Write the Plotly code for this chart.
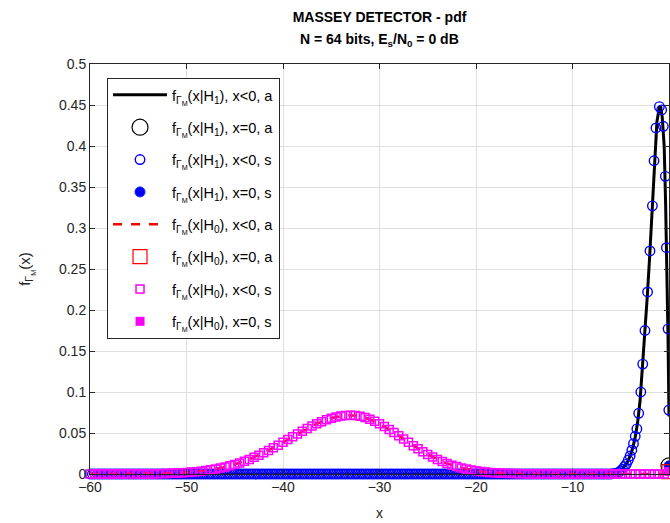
import numpy as np
import plotly.graph_objects as go

# ---------------- data ----------------
# common coarse grid for the simulated / analytic H0 pdf (x < 0)
h0_x = np.arange(-60.0, 0.0, 0.5)          # -60 ... -0.5  (120 samples)
h0_pdf = [
    0, 0, 0, 0, 0, 0, 0, 0, 0, 0, 0, 0, 0, 0,                      # -60 .. -53.5
    0.0004, 0.0005, 0.0007, 0.0009, 0.0012, 0.0015, 0.0019, 0.0023,  # -53 .. -49.5
    0.0028, 0.0035, 0.0042, 0.0051, 0.0061, 0.0072, 0.0085, 0.0100,  # -49 .. -45.5
    0.0117, 0.0135, 0.0156, 0.0178, 0.0203, 0.0229, 0.0258, 0.0288,  # -45 .. -41.5
    0.0319, 0.0352, 0.0386, 0.0420, 0.0454, 0.0488, 0.0522, 0.0554,  # -41 .. -37.5
    0.0585, 0.0613, 0.0638, 0.0661, 0.0680, 0.0695, 0.0706, 0.0713,  # -37 .. -33.5
    0.0715, 0.0712, 0.0703, 0.0688, 0.0668, 0.0642, 0.0613, 0.0580,  # -33 .. -29.5
    0.0543, 0.0505, 0.0466, 0.0426, 0.0386, 0.0346, 0.0309, 0.0272,  # -29 .. -25.5
    0.0239, 0.0207, 0.0178, 0.0152, 0.0129, 0.0108, 0.0090, 0.0074,  # -25 .. -21.5
    0.0060, 0.0049, 0.0039, 0.0031, 0.0025, 0.0019, 0.0015, 0.0012,  # -21 .. -17.5
    0.0009, 0.0007, 0.0005, 0.0004, 0.0003,                          # -17 .. -15
    0, 0, 0, 0, 0, 0, 0, 0, 0, 0, 0, 0, 0, 0, 0,                      # -14.5 .. -7.5
    0, 0, 0, 0, 0, 0, 0, 0, 0, 0, 0, 0, 0, 0,                         # -7 .. -0.5
]

# analytic H1 pdf (x < 0)
h1_ana_x = [-60, -6, -5.5, -5, -4.5, -4.25, -4, -3.75, -3.5, -3.25, -3, -2.75,
            -2.5, -2.25, -2, -1.75, -1.5, -1.25, -1, -0.85, -0.7, -0.5, -0.35,
            -0.2, -0.1, 0]
h1_ana_y = [0, 0, 0.001, 0.004, 0.011, 0.016, 0.023, 0.032, 0.045, 0.063, 0.089,
            0.128, 0.172, 0.217, 0.266, 0.32, 0.385, 0.43, 0.447, 0.447, 0.435,
            0.40, 0.33, 0.24, 0.165, 0.07]

# simulated H1 pdf (x < 0): zero tail on a fine grid, then read-off points
h1_tail_x = np.arange(-60.0, -5.4, 0.25)    # -60 ... -5.5  (219 samples)
h1_tail_y = [
    0, 0, 0, 0, 0, 0, 0, 0, 0, 0, 0, 0, 0, 0, 0, 0, 0, 0, 0, 0,   # -60 .. -55.25
    0, 0, 0, 0, 0, 0, 0, 0, 0, 0, 0, 0, 0, 0, 0, 0, 0, 0, 0, 0,   # -55 .. -50.25
    0, 0, 0, 0, 0, 0, 0, 0, 0, 0, 0, 0, 0, 0, 0, 0, 0, 0, 0, 0,   # -50 .. -45.25
    0, 0, 0, 0, 0, 0, 0, 0, 0, 0, 0, 0, 0, 0, 0, 0, 0, 0, 0, 0,   # -45 .. -40.25
    0, 0, 0, 0, 0, 0, 0, 0, 0, 0, 0, 0, 0, 0, 0, 0, 0, 0, 0, 0,   # -40 .. -35.25
    0, 0, 0, 0, 0, 0, 0, 0, 0, 0, 0, 0, 0, 0, 0, 0, 0, 0, 0, 0,   # -35 .. -30.25
    0, 0, 0, 0, 0, 0, 0, 0, 0, 0, 0, 0, 0, 0, 0, 0, 0, 0, 0, 0,   # -30 .. -25.25
    0, 0, 0, 0, 0, 0, 0, 0, 0, 0, 0, 0, 0, 0, 0, 0, 0, 0, 0, 0,   # -25 .. -20.25
    0, 0, 0, 0, 0, 0, 0, 0, 0, 0, 0, 0, 0, 0, 0, 0, 0, 0, 0, 0,   # -20 .. -15.25
    0, 0, 0, 0, 0, 0, 0, 0, 0, 0, 0, 0, 0, 0, 0, 0, 0, 0, 0, 0,   # -15 .. -10.25
    0, 0, 0, 0, 0, 0, 0, 0, 0, 0, 0, 0, 0, 0, 0, 0, 0, 0.0005,    # -10 .. -5.75
    0.001,                                                         # -5.5
]
h1_peak_x = [-5.2, -5.0, -4.8, -4.62, -4.42, -4.22, -4.03, -3.85, -3.68, -3.5,
             -3.33, -3.14, -2.92, -2.72, -2.49, -2.22, -1.97, -1.72, -1.55,
             -1.35, -1.0, -0.76, -0.59, -0.38, -0.27, -0.1, -0.02]
h1_peak_y = [0.002, 0.004, 0.006, 0.009, 0.012, 0.017, 0.022, 0.029, 0.037, 0.046,
             0.055, 0.074, 0.100, 0.134, 0.175, 0.222, 0.272, 0.327, 0.382,
             0.422, 0.448, 0.444, 0.424, 0.363, 0.276, 0.177, 0.078]

# point masses at x = 0
x_zero = [0]
h1_zero_ana = [0.010]
h1_zero_sim = [0.010]
h0_zero_ana = [0.003]
h0_zero_sim = [0.003]

x_ticks = [-60, -50, -40, -30, -20, -10, 0]
y_ticks = [0, 0.05, 0.1, 0.15, 0.2, 0.25, 0.3, 0.35, 0.4, 0.45, 0.5]
y_tick_text = ["0", "0.05", "0.1", "0.15", "0.2", "0.25", "0.3", "0.35", "0.4", "0.45", "0.5"]

title_line1 = "MASSEY DETECTOR - pdf"
title_line2 = "N = 64 bits, E<sub>s</sub>/N<sub>0</sub> = 0 dB"

FGAM = "f<sub>Γ<sub>M</sub></sub>"
names = [
    FGAM + "(x|H<sub>1</sub>), x&lt;0, a",
    FGAM + "(x|H<sub>1</sub>), x=0, a",
    FGAM + "(x|H<sub>1</sub>), x&lt;0, s",
    FGAM + "(x|H<sub>1</sub>), x=0, s",
    FGAM + "(x|H<sub>0</sub>), x&lt;0, a",
    FGAM + "(x|H<sub>0</sub>), x=0, a",
    FGAM + "(x|H<sub>0</sub>), x&lt;0, s",
    FGAM + "(x|H<sub>0</sub>), x=0, s",
]

# ---------------- figure ----------------
fig = go.Figure()

h1_sim_x = list(h1_tail_x) + h1_peak_x
h1_sim_y = h1_tail_y + h1_peak_y

fig.add_trace(go.Scatter(x=h1_ana_x, y=h1_ana_y, mode="lines", name=names[0],
                         legendgroup="g1", line=dict(color="black", width=3)))
fig.add_trace(go.Scatter(x=x_zero, y=h1_zero_ana, mode="markers", name=names[1],
                         legendgroup="g2", cliponaxis=False,
                         marker=dict(symbol="circle-open", size=16, color="black",
                                     line=dict(width=1.2, color="black"))))
fig.add_trace(go.Scatter(x=h1_sim_x, y=h1_sim_y, mode="markers", name=names[2],
                         legendgroup="g3", cliponaxis=False,
                         marker=dict(symbol="circle-open", size=9.5, color="#0000ff",
                                     line=dict(width=1.4, color="#0000ff"))))
fig.add_trace(go.Scatter(x=x_zero, y=h1_zero_sim, mode="markers", name=names[3],
                         legendgroup="g4", cliponaxis=False,
                         marker=dict(symbol="circle", size=10, color="#0000ff",
                                     line=dict(width=1, color="#1a1aff"))))
fig.add_trace(go.Scatter(x=list(h0_x) + x_zero, y=h0_pdf + h0_zero_ana, mode="lines",
                         name=names[4], legendgroup="g5",
                         line=dict(color="#ff0000", width=2.5, dash="dash")))
fig.add_trace(go.Scatter(x=x_zero, y=h0_zero_ana, mode="markers", name=names[5],
                         legendgroup="g6", cliponaxis=False,
                         marker=dict(symbol="square-open", size=14, color="#ff0000",
                                     line=dict(width=1.2, color="#ff0000"))))
fig.add_trace(go.Scatter(x=h0_x, y=h0_pdf, mode="markers", name=names[6],
                         legendgroup="g7", cliponaxis=False,
                         marker=dict(symbol="square-open", size=8, color="#ff00ff",
                                     line=dict(width=1.5, color="#ff00ff"))))
fig.add_trace(go.Scatter(x=x_zero, y=h0_zero_sim, mode="markers", name=names[7],
                         legendgroup="g8", cliponaxis=False,
                         marker=dict(symbol="square", size=9, color="#ff00ff",
                                     line=dict(width=0, color="#ff00ff"))))

AX_COLOR = "#262626"
GRID = "#dfdfdf"
FONT = "Liberation Sans, Arial, sans-serif"

fig.update_layout(
    width=670, height=523,
    margin=dict(l=90, r=1, t=64, b=49),
    paper_bgcolor="white", plot_bgcolor="white",
    font=dict(family=FONT, size=14, color=AX_COLOR),
    hovermode=False,
    title=dict(
        text="<b>" + title_line1 + "</b>",
        xref="paper", x=0.5, xanchor="center",
        yref="container", y=1 - 17 / 523, yanchor="middle",
        font=dict(family=FONT, size=14, color="black"),
    ),
    annotations=[dict(
        text="<b>" + title_line2 + "</b>",
        xref="paper", x=0.5, xanchor="center",
        yref="paper", y=1.0585, yanchor="middle",
        showarrow=False, font=dict(family=FONT, size=14, color="black"),
    )],
    showlegend=True,
    legend=dict(
        x=0.0294, xanchor="left", y=0.966, yanchor="top",
        bgcolor="white", bordercolor=AX_COLOR, borderwidth=1,
        font=dict(family=FONT, size=14.5, color="black"),
        tracegroupgap=10.5, itemwidth=54,
    ),
    xaxis=dict(
        range=[-60, 0], tickmode="array", tickvals=x_ticks,
        showgrid=True, gridcolor=GRID, gridwidth=1,
        showline=True, linecolor=AX_COLOR, linewidth=1, mirror="ticks",
        ticks="inside", ticklen=5, tickcolor=AX_COLOR, zeroline=False,
        tickfont=dict(size=14, color=AX_COLOR),
        title=dict(text="x", font=dict(size=14, color=AX_COLOR), standoff=14),
    ),
    yaxis=dict(
        range=[0, 0.5], tickmode="array", tickvals=y_ticks, ticktext=y_tick_text,
        showgrid=True, gridcolor=GRID, gridwidth=1,
        showline=True, linecolor=AX_COLOR, linewidth=1, mirror="ticks",
        ticks="inside", ticklen=5, tickcolor=AX_COLOR, zeroline=False,
        tickfont=dict(size=14, color=AX_COLOR),
        title=dict(text=FGAM + "(x)", font=dict(size=15, color=AX_COLOR), standoff=24),
    ),
)

# remove the default page margin so the 670x523 figure fills the window exactly
fig.write_html(
    "out.html",
    config={"displayModeBar": False, "staticPlot": True},
    post_script="document.body.style.margin='0px';document.body.style.overflow='hidden';",
)
